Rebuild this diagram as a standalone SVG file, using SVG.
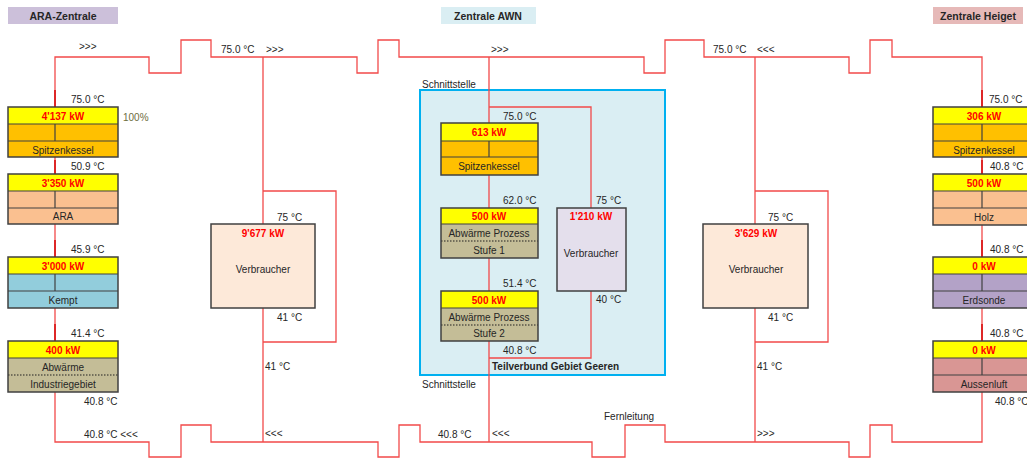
<svg xmlns="http://www.w3.org/2000/svg" width="1027" height="459" viewBox="0 0 1027 459">
<style>
text{font-family:"Liberation Sans",Arial,sans-serif;font-size:10px;fill:#262626}
.c{text-anchor:middle}
.b{font-weight:bold}
.kw{font-weight:bold;fill:#ff0000;text-anchor:middle}
.hdr{font-weight:bold;text-anchor:middle;font-size:10.5px}
.pipe{fill:none;stroke:#f24a4a;stroke-width:1.3}
.stub{fill:none;stroke:#d81010;stroke-width:1.6}
.bx{stroke:#404040;stroke-width:1.5}
.ln{stroke:#404040;stroke-width:1.2}
.dot{stroke:#202020;stroke-width:1.2;stroke-dasharray:1.5 1.5}
.y{fill:#ffff00}.o{fill:#ffc000}.s{fill:#fac090}.k{fill:#92cddc}.a{fill:#c4bd97}.e{fill:#b3a2c7}.r{fill:#d99694}
</style>

<g id="headers">
<rect x="8" y="7" width="110" height="17" fill="#ccc0da"/>
<text class="hdr" x="63" y="20">ARA-Zentrale</text>
<rect x="441" y="7" width="95" height="17" fill="#daeef3"/>
<text class="hdr" x="488" y="20">Zentrale AWN</text>
<rect x="933" y="7" width="90" height="17" fill="#e6b9b8"/>
<text class="hdr" x="978" y="20">Zentrale Heiget</text>
</g>

<g id="teilverbund">
<rect x="420" y="90" width="245" height="285" fill="#daeef3" stroke="#00b0f0" stroke-width="2"/>
<text class="b" x="492" y="370">Teilverbund Gebiet Geeren</text>
<text x="422" y="88">Schnittstelle</text>
<text x="422" y="388">Schnittstelle</text>
</g>

<g id="connectors">
<path class="pipe" d="M55,107 V57 H149 V73 H181 V40 H211 V57 H357 V73 H378 V40 H399 V57 H644 V73 H665 V40 H704 V57 H849 V73 H870 V40 H892 V57 H982 V107"/>
<path class="pipe" d="M55,392 V442 H149 V457 H181 V425 H211 V442 H378 V457 H399 V425 H420 V442 H592 V457 H625 V425 H665 V442 H849 V457 H870 V425 H892 V442 H982 V392"/>
<path class="pipe" d="M55,157 V174 M55,224 V257 M55,308 V341"/>
<path class="pipe" d="M982,157 V174 M982,225 V257 M982,308 V341"/>
<path class="pipe" d="M263,57 V224 M263,191 H336 V342 H263 M263,308 V442"/>
<path class="pipe" d="M755,57 V224 M755,191 H828 V342 H755 M755,308 V442"/>
<path class="pipe" d="M489,57 V123 M489,107 H591 V208 M489,175 V208 M489,258 V291 M489,341 V442 M489,358 H591 V291"/>
<path class="stub" d="M55,90 V107 M55,160 V174 M55,240 V257 M55,324 V341 M982,90 V107 M982,160 V174 M982,240 V257 M982,324 V341"/>
<text x="79" y="50">&gt;&gt;&gt;</text>
<text x="221" y="53">75.0 °C</text>
<text x="266" y="53">&gt;&gt;&gt;</text>
<text x="491" y="53">&gt;&gt;&gt;</text>
<text x="713" y="53">75.0 °C</text>
<text x="757" y="53">&lt;&lt;&lt;</text>
<text x="84" y="438">40.8 °C &lt;&lt;&lt;</text>
<text x="265" y="437">&lt;&lt;&lt;</text>
<text x="438" y="438">40.8 °C</text>
<text x="492" y="437">&lt;&lt;&lt;</text>
<text x="604" y="420">Fernleitung</text>
<text x="757" y="437">&gt;&gt;&gt;</text>
</g>

<g id="ara-spitzenkessel">
<rect class="o" x="8" y="107" width="110" height="50"/>
<rect class="y" x="8" y="107" width="110" height="17"/>
<line class="ln" x1="8" y1="124" x2="118" y2="124"/><line class="ln" x1="8" y1="141" x2="118" y2="141"/><line class="ln" x1="55" y1="124" x2="55" y2="141"/>
<rect class="bx" x="8" y="107" width="110" height="50" fill="none"/>
<text class="kw" x="63" y="120">4'137 kW</text>
<text class="c" x="63" y="154">Spitzenkessel</text>
<text x="71" y="103">75.0 °C</text>
<text x="123" y="121" style="fill:#6e6e40">100%</text>
</g>

<g id="ara-ara">
<rect class="s" x="8" y="174" width="110" height="50"/>
<rect class="y" x="8" y="174" width="110" height="17"/>
<line class="ln" x1="8" y1="191" x2="118" y2="191"/><line class="ln" x1="8" y1="208" x2="118" y2="208"/><line class="ln" x1="55" y1="191" x2="55" y2="208"/>
<rect class="bx" x="8" y="174" width="110" height="50" fill="none"/>
<text class="kw" x="63" y="187">3'350 kW</text>
<text class="c" x="63" y="220">ARA</text>
<text x="71" y="170">50.9 °C</text>
</g>

<g id="ara-kempt">
<rect class="k" x="8" y="257" width="110" height="51"/>
<rect class="y" x="8" y="257" width="110" height="17"/>
<line class="ln" x1="8" y1="274" x2="118" y2="274"/><line class="ln" x1="8" y1="291" x2="118" y2="291"/><line class="ln" x1="55" y1="274" x2="55" y2="291"/>
<rect class="bx" x="8" y="257" width="110" height="51" fill="none"/>
<text class="kw" x="63" y="270">3'000 kW</text>
<text class="c" x="63" y="304">Kempt</text>
<text x="71" y="253">45.9 °C</text>
</g>

<g id="ara-abwaerme">
<rect class="a" x="8" y="341" width="110" height="51"/>
<rect class="y" x="8" y="341" width="110" height="17"/>
<line class="ln" x1="8" y1="358" x2="118" y2="358"/><line class="dot" x1="8" y1="375" x2="118" y2="375"/>
<rect class="bx" x="8" y="341" width="110" height="51" fill="none"/>
<text class="kw" x="63" y="354">400 kW</text>
<text class="c" x="63" y="371">Abwärme</text>
<text class="c" x="63" y="388">Industriegebiet</text>
<text x="71" y="337">41.4 °C</text>
<text x="84" y="405">40.8 °C</text>
</g>

<g id="verbraucher-links">
<rect class="bx" x="211" y="224" width="104" height="84" fill="#fde9d9"/>
<text class="kw" x="263" y="237">9'677 kW</text>
<text class="c" x="263" y="273">Verbraucher</text>
<text x="277" y="221">75 °C</text>
<text x="277" y="321">41 °C</text>
<text x="265" y="370">41 °C</text>
</g>

<g id="awn-spitzenkessel">
<rect class="o" x="441" y="123" width="97" height="52"/>
<rect class="y" x="441" y="123" width="97" height="18"/>
<line class="ln" x1="441" y1="141" x2="538" y2="141"/><line class="ln" x1="441" y1="157" x2="538" y2="157"/><line class="ln" x1="489" y1="141" x2="489" y2="157"/>
<rect class="bx" x="441" y="123" width="97" height="52" fill="none"/>
<text class="kw" x="489" y="136">613 kW</text>
<text class="c" x="489" y="170">Spitzenkessel</text>
<text x="503" y="120">75.0 °C</text>
</g>

<g id="awn-stufe1">
<rect class="a" x="441" y="208" width="97" height="50"/>
<rect class="y" x="441" y="208" width="97" height="16"/>
<line class="ln" x1="441" y1="224" x2="538" y2="224"/><line class="dot" x1="441" y1="241" x2="538" y2="241"/>
<rect class="bx" x="441" y="208" width="97" height="50" fill="none"/>
<text class="kw" x="489" y="220">500 kW</text>
<text class="c" x="489" y="237">Abwärme Prozess</text>
<text class="c" x="489" y="254">Stufe 1</text>
<text x="503" y="204">62.0 °C</text>
</g>

<g id="awn-stufe2">
<rect class="a" x="441" y="291" width="97" height="50"/>
<rect class="y" x="441" y="291" width="97" height="17"/>
<line class="ln" x1="441" y1="308" x2="538" y2="308"/><line class="dot" x1="441" y1="325" x2="538" y2="325"/>
<rect class="bx" x="441" y="291" width="97" height="50" fill="none"/>
<text class="kw" x="489" y="304">500 kW</text>
<text class="c" x="489" y="321">Abwärme Prozess</text>
<text class="c" x="489" y="337">Stufe 2</text>
<text x="503" y="287">51.4 °C</text>
<text x="503" y="354">40.8 °C</text>
</g>

<g id="awn-verbraucher">
<rect class="bx" x="557" y="208" width="69" height="83" fill="#e4dfec"/>
<text class="kw" x="591" y="220">1'210 kW</text>
<text class="c" x="591" y="257">Verbraucher</text>
<text x="596" y="204">75 °C</text>
<text x="596" y="303">40 °C</text>
</g>

<g id="verbraucher-rechts">
<rect class="bx" x="703" y="224" width="105" height="84" fill="#fde9d9"/>
<text class="kw" x="756" y="237">3'629 kW</text>
<text class="c" x="756" y="273">Verbraucher</text>
<text x="768" y="221">75 °C</text>
<text x="768" y="321">41 °C</text>
<text x="757" y="370">41 °C</text>
</g>

<g id="heiget-spitzenkessel">
<rect class="o" x="933" y="107" width="110" height="50"/>
<rect class="y" x="933" y="107" width="110" height="17"/>
<line class="ln" x1="933" y1="124" x2="1043" y2="124"/><line class="ln" x1="933" y1="141" x2="1043" y2="141"/><line class="ln" x1="982" y1="124" x2="982" y2="141"/>
<rect class="bx" x="933" y="107" width="110" height="50" fill="none"/>
<text class="kw" x="984" y="120">306 kW</text>
<text class="c" x="984" y="154">Spitzenkessel</text>
<text x="989" y="103">75.0 °C</text>
<text x="990" y="170">40.8 °C</text>
</g>

<g id="heiget-holz">
<rect class="s" x="933" y="174" width="110" height="51"/>
<rect class="y" x="933" y="174" width="110" height="17"/>
<line class="ln" x1="933" y1="191" x2="1043" y2="191"/><line class="ln" x1="933" y1="208" x2="1043" y2="208"/><line class="ln" x1="982" y1="191" x2="982" y2="208"/>
<rect class="bx" x="933" y="174" width="110" height="51" fill="none"/>
<text class="kw" x="984" y="187">500 kW</text>
<text class="c" x="984" y="221">Holz</text>
</g>

<g id="heiget-erdsonde">
<rect class="e" x="933" y="257" width="110" height="51"/>
<rect class="y" x="933" y="257" width="110" height="17"/>
<line class="ln" x1="933" y1="274" x2="1043" y2="274"/><line class="ln" x1="933" y1="291" x2="1043" y2="291"/><line class="ln" x1="982" y1="274" x2="982" y2="291"/>
<rect class="bx" x="933" y="257" width="110" height="51" fill="none"/>
<text class="kw" x="984" y="270">0 kW</text>
<text class="c" x="984" y="304">Erdsonde</text>
<text x="990" y="253">40.8 °C</text>
</g>

<g id="heiget-aussenluft">
<rect class="r" x="933" y="341" width="110" height="51"/>
<rect class="y" x="933" y="341" width="110" height="17"/>
<line class="ln" x1="933" y1="358" x2="1043" y2="358"/><line class="ln" x1="933" y1="375" x2="1043" y2="375"/><line class="ln" x1="982" y1="358" x2="982" y2="375"/>
<rect class="bx" x="933" y="341" width="110" height="51" fill="none"/>
<text class="kw" x="984" y="354">0 kW</text>
<text class="c" x="984" y="388">Aussenluft</text>
<text x="990" y="337">40.8 °C</text>
<text x="995" y="405">40.8 °C</text>
</g>
</svg>
